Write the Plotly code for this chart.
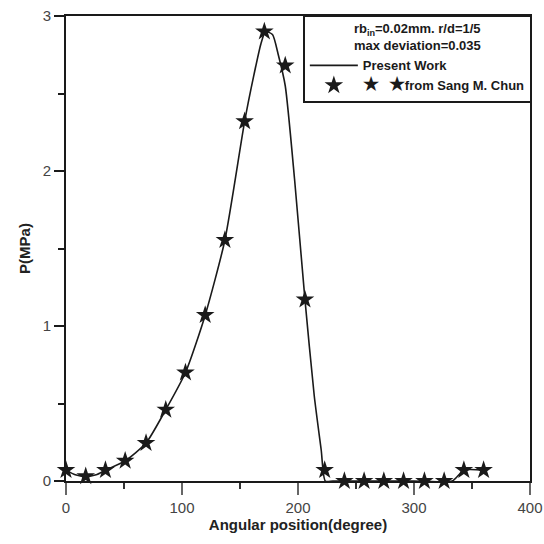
import plotly.graph_objects as go

# Reference data (Sang M. Chun)
chun_angle = [0, 17, 34, 51, 69, 86, 103, 120, 137, 154, 171, 189, 206, 223,
              240, 257, 274, 291, 309, 326, 343, 360]
chun_p = [0.07, 0.03, 0.07, 0.13, 0.245, 0.46, 0.70, 1.07, 1.555, 2.32, 2.90, 2.68,
          1.17, 0.07, 0.0, 0.0, 0.0, 0.0, 0.0, 0.0, 0.07, 0.07]

# Present work curve
work_angle = [0, 8, 17, 26, 34, 51, 69, 86, 103, 120, 137, 154, 162, 168, 172,
              178, 183, 189, 197, 206, 214, 220, 223.5, 230, 260, 300, 333, 343, 360]
work_p = [0.07, 0.04, 0.03, 0.04, 0.07, 0.13, 0.245, 0.46, 0.70, 1.07, 1.555, 2.32,
          2.62, 2.82, 2.90, 2.88, 2.75, 2.55, 1.95, 1.17, 0.55, 0.2, 0.0, 0.0, 0.0,
          0.0, 0.0, 0.07, 0.07]

x_ticks = [0, 100, 200, 300, 400]
y_ticks = [0, 1, 2, 3]

fig = go.Figure()
fig.add_trace(go.Scatter(
    x=work_angle, y=work_p, mode="lines", name="Present Work",
    line=dict(color="#1a1a1a", width=1.6, shape="spline", smoothing=0.6),
))
fig.add_trace(go.Scatter(
    x=chun_angle, y=chun_p, mode="markers",
    name='<span style="font-size:18px">★  ★</span>from Sang M. Chun',
    marker=dict(symbol="star", size=14, color="#1a1a1a", line=dict(width=0)),
))

font = "Liberation Sans, Arial, sans-serif"
fig.update_layout(
    width=544, height=544,
    margin=dict(l=66, r=14, t=16, b=63),
    paper_bgcolor="white", plot_bgcolor="white",
    font=dict(family=font, color="#333333", size=15),
    showlegend=True,
    legend=dict(
        x=1.004, y=1.003, xanchor="right", yanchor="top",
        bordercolor="#1a1a1a", borderwidth=2, bgcolor="white",
        font=dict(family=font, size=13, color="#1a1a1a", weight="bold"),
        title=dict(text="rb<sub>in</sub>=0.02mm. r/d=1/5<br>max deviation=0.035",
                   side="top center",
                   font=dict(family=font, size=13, color="#1a1a1a", weight="bold")),
        tracegroupgap=0, itemwidth=48, itemsizing="trace",
    ),
    xaxis=dict(
        range=[0, 400], tickvals=x_ticks, ticks="outside", ticklen=12, tickwidth=1.5,
        tickcolor="#666666", automargin=False,
        minor=dict(dtick=50, ticks="outside", ticklen=6, tickwidth=1.5, tickcolor="#333333"),
        showgrid=False, zeroline=False, showline=True, linecolor="#1a1a1a", linewidth=2,
        mirror=True,
        title=dict(text="<b>Angular position(degree)</b>", standoff=4,
                   font=dict(family=font, size=15, color="#222222")),
        tickfont=dict(family=font, size=15, color="#444444"),
    ),
    yaxis=dict(
        range=[0, 3], tickvals=y_ticks, ticks="outside", ticklen=10, tickwidth=1.5,
        tickcolor="#1a1a1a", automargin=False,
        minor=dict(dtick=0.5, ticks="outside", ticklen=6, tickwidth=1.5, tickcolor="#1a1a1a"),
        showgrid=False, zeroline=False, showline=True, linecolor="#1a1a1a", linewidth=2,
        mirror=True,
        title=dict(text="<b>P(MPa)</b>", standoff=8,
                   font=dict(family=font, size=15, color="#222222")),
        tickfont=dict(family=font, size=15, color="#444444"),
    ),
)
for t in fig.data:
    t.cliponaxis = False

fig.write_html("out.html", config={"displayModeBar": False},
               post_script="document.body.style.margin='0';")
